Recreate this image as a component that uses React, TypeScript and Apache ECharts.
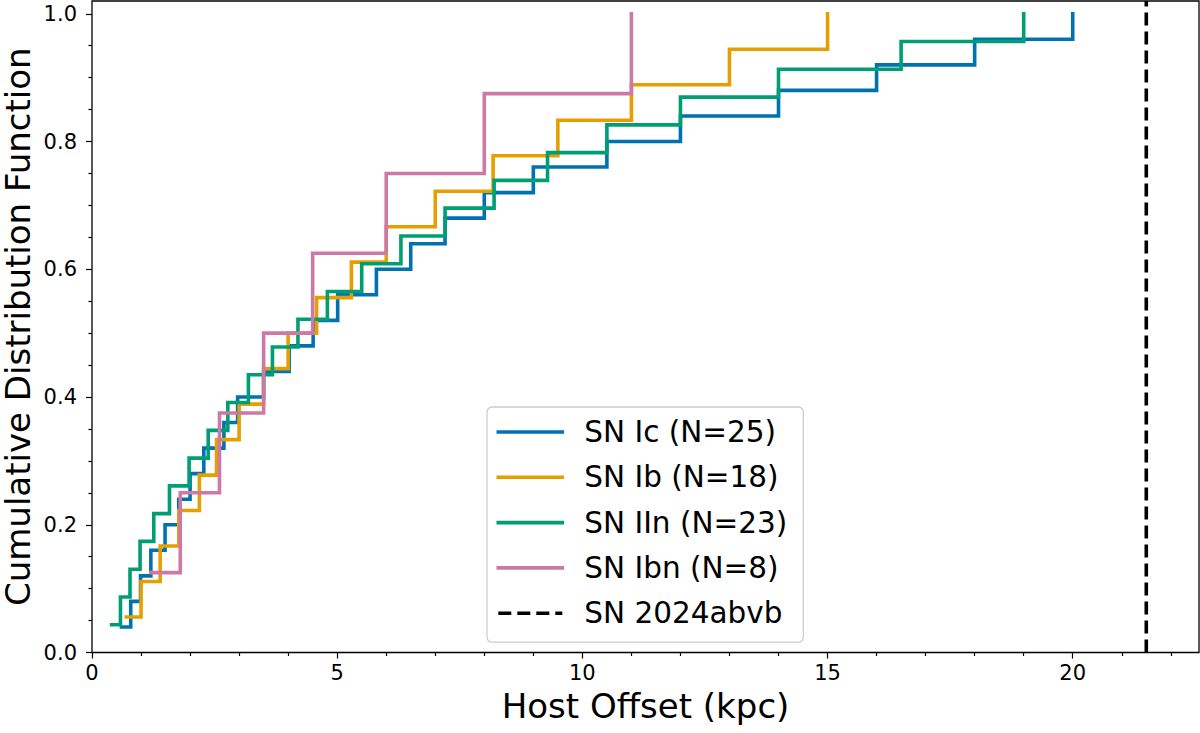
import React, { useEffect, useRef } from "react";
import * as echarts from "echarts";

// Host offsets (kpc) of each supernova class, sorted ascending.
const offsetsIc = [0.6, 0.79, 0.99, 1.2, 1.49, 1.77, 2.0, 2.28, 2.69, 2.97, 3.5, 4.02, 4.51, 5.01, 5.8, 6.5, 7.2, 8.0, 9.0, 10.5, 12.0, 14.0, 16.0, 18.0, 20.0];
const offsetsIb = [0.7, 1.0, 1.39, 1.77, 2.19, 2.54, 3.0, 3.5, 4.0, 4.58, 5.29, 6.0, 7.0, 8.18, 9.5, 11.0, 13.0, 15.0];
const offsetsIIn = [0.4, 0.58, 0.775, 0.98, 1.26, 1.58, 1.98, 2.37, 2.77, 3.19, 3.68, 4.2, 4.8, 5.5, 6.3, 7.2, 8.2, 9.29, 10.5, 12.0, 14.0, 16.5, 19.0];
const offsetsIbn = [1.2, 1.8, 2.6, 3.5, 4.5, 6.0, 8.0, 11.0];

const classNames = ["SN Ic (N=25)", "SN Ib (N=18)", "SN IIn (N=23)", "SN Ibn (N=8)"];
const classColors = ["#0072B2", "#E69F00", "#009E73", "#CC79A7"];

// Offset of SN 2024abvb (kpc)
const targetName = "SN 2024abvb";
const targetOffset = 21.5;

// Axis ranges and ticks
const xMin = 0;
const xMax = 22.575;
const yMin = 0;
const yMax = 1.02;
const xMajorTicks = [0, 5, 10, 15, 20];
const xMinorTicks = [1, 2, 3, 4, 6, 7, 8, 9, 11, 12, 13, 14, 16, 17, 18, 19, 21, 22];
const yMajorTicks = [0, 0.2, 0.4, 0.6, 0.8, 1.0];
const yMinorTicks = [0.05, 0.1, 0.15, 0.25, 0.3, 0.35, 0.45, 0.5, 0.55, 0.65, 0.7, 0.75, 0.85, 0.9, 0.95];

const FONT = "DejaVu Sans";
const LINE_W = 3.6;

// Empirical CDF points: k-th smallest offset reaches fraction k/N
function ecdf(offsets: number[]): [number, number][] {
  const n = offsets.length;
  return offsets.map((x, i) => [x, (i + 1) / n]);
}

export default function App() {
  const ref = useRef<HTMLDivElement>(null);

  useEffect(() => {
    document.body.style.margin = "0";
    if (!ref.current) return;
    const chart = echarts.init(ref.current, undefined, { renderer: "svg" });

    const groups = [offsetsIc, offsetsIb, offsetsIIn, offsetsIbn];
    const cdfSeries = groups.map((offs, i) => ({
      name: classNames[i],
      type: "line",
      step: "end",
      symbol: "none",
      silent: true,
      xAxisIndex: 0,
      yAxisIndex: 0,
      color: classColors[i],
      lineStyle: { color: classColors[i], width: LINE_W, cap: "square", join: "miter" },
      z: 2 + i,
      data: ecdf(offs),
    }));

    const tickLine = { color: "#000", width: 1.2 };

    chart.setOption({
      animation: false,
      backgroundColor: "#fff",
      textStyle: { fontFamily: FONT },
      grid: {
        left: 92,
        right: 1,
        top: 1,
        bottom: 80.5,
        show: true,
        borderColor: "#000",
        borderWidth: 1.3,
        backgroundColor: "transparent",
        outerBoundsMode: "none",
      },
      legend: {
        orient: "vertical",
        left: 487,
        top: 407,
        itemWidth: 64,
        itemHeight: 29,
        itemGap: 15.3,
        padding: [10, 16, 14, 9.5],
        backgroundColor: "rgba(255,255,255,0.8)",
        borderColor: "#cccccc",
        borderWidth: 1.3,
        borderRadius: 5,
        selectedMode: false,
        itemStyle: { opacity: 0 },
        lineStyle: { width: LINE_W },
        textStyle: { fontSize: 29.5, color: "#000", fontFamily: FONT, lineHeight: 29, padding: [0, 0, 0, 17] },
        data: [...classNames, targetName],
      },
      xAxis: [
        {
          type: "value",
          min: xMin,
          max: xMax,
          position: "bottom",
          axisLine: { show: false },
          splitLine: { show: false },
          axisTick: { show: true, customValues: xMajorTicks, length: 6, lineStyle: tickLine },
          axisLabel: { customValues: xMajorTicks, fontSize: 21, lineHeight: 21, color: "#000", margin: 10, fontFamily: FONT },
          name: "Host Offset (kpc)",
          nameLocation: "middle",
          nameGap: 36,
          nameMoveOverlap: false,
          nameTextStyle: { fontSize: 34, lineHeight: 34, color: "#000", fontFamily: FONT },
        },
        {
          type: "value",
          min: xMin,
          max: xMax,
          position: "bottom",
          axisLine: { show: false },
          splitLine: { show: false },
          axisLabel: { show: false },
          axisTick: { show: true, customValues: xMinorTicks, length: 3.5, lineStyle: tickLine },
        },
      ],
      yAxis: [
        {
          type: "value",
          min: yMin,
          max: yMax,
          position: "left",
          axisLine: { show: false },
          splitLine: { show: false },
          axisTick: { show: true, customValues: yMajorTicks, length: 6, lineStyle: tickLine },
          axisLabel: {
            customValues: yMajorTicks,
            fontSize: 21,
            color: "#000",
            margin: 15,
            fontFamily: FONT,
            formatter: (v: number) => v.toFixed(1),
          },
          name: "Cumulative Distribution Function",
          nameLocation: "middle",
          nameGap: 57,
          nameMoveOverlap: false,
          nameTextStyle: { fontSize: 34, lineHeight: 34, color: "#000", fontFamily: FONT },
        },
        {
          type: "value",
          min: yMin,
          max: yMax,
          position: "left",
          axisLine: { show: false },
          splitLine: { show: false },
          axisLabel: { show: false },
          axisTick: { show: true, customValues: yMinorTicks, length: 3.5, lineStyle: tickLine },
        },
      ],
      series: [
        ...cdfSeries,
        {
          name: targetName,
          type: "line",
          symbol: "none",
          silent: true,
          xAxisIndex: 0,
          yAxisIndex: 0,
          color: "#000",
          lineStyle: { color: "#000", width: LINE_W, type: [13, 6] },
          z: 10,
          data: [
            [targetOffset, yMin],
            [targetOffset, yMax],
          ],
        },
      ],
    });

    return () => chart.dispose();
  }, []);

  return <div ref={ref} style={{ width: 1200, height: 733 }} />;
}
